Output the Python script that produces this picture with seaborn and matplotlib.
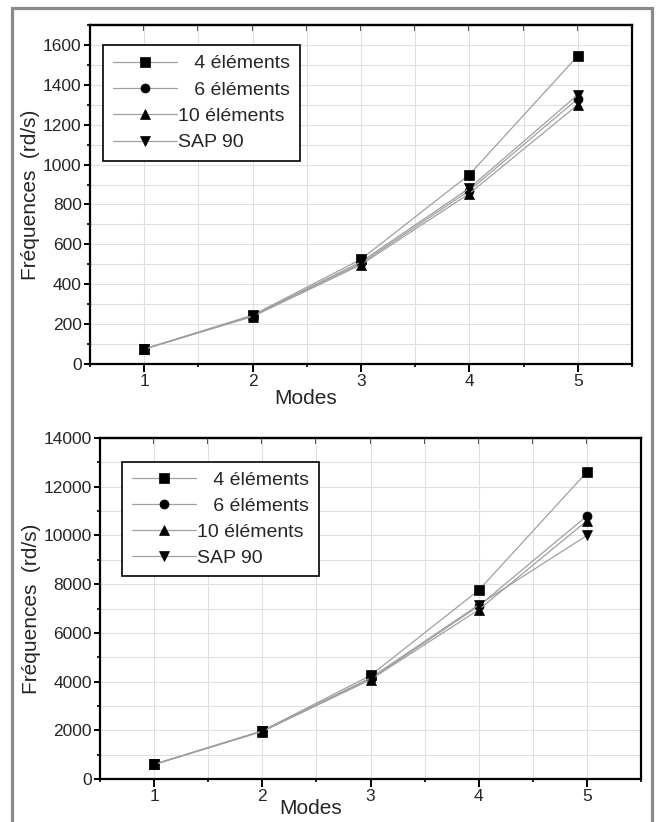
import pandas as pd
import seaborn as sns
import matplotlib.pyplot as plt
from matplotlib.patches import Rectangle
from matplotlib.ticker import MultipleLocator

modes = [1, 2, 3, 4, 5]
series = ["4 éléments", "6 éléments", "10 éléments", "SAP 90"]
labels = ["\u2007 4 éléments", "\u2007 6 éléments", "10 éléments", "SAP 90"]
markers = ["s", "o", "^", "v"]

# top chart
freq_top_4 = [75, 245, 525, 950, 1545]
freq_top_6 = [75, 240, 505, 870, 1330]
freq_top_10 = [75, 238, 498, 855, 1300]
freq_top_sap = [75, 242, 512, 882, 1350]

# bottom chart
freq_bot_4 = [600, 1980, 4250, 7750, 12600]
freq_bot_6 = [600, 1960, 4100, 7100, 10800]
freq_bot_10 = [600, 1950, 4080, 6950, 10600]
freq_bot_sap = [600, 1970, 4150, 7150, 10000]


def make_df(cols):
    rows = []
    for name, vals in zip(series, cols):
        for m, v in zip(modes, vals):
            rows.append({"Modes": m, "Freq": v, "Serie": name})
    return pd.DataFrame(rows)


df_top = make_df([freq_top_4, freq_top_6, freq_top_10, freq_top_sap])
df_bot = make_df([freq_bot_4, freq_bot_6, freq_bot_10, freq_bot_sap])

sns.set_style("white")
plt.rcParams["font.family"] = ["Liberation Sans", "DejaVu Sans"]

fig = plt.figure(figsize=(6.6, 8.22), dpi=100)
fig.patches.append(Rectangle((12 / 660, -0.05), 640 / 660, 1.05 - 8 / 822,
                             transform=fig.transFigure, fill=False,
                             edgecolor="#8a8a8a", linewidth=2.3))

ax1 = fig.add_axes([90 / 660, (822 - 364) / 822, 542 / 660, 339 / 822])
ax2 = fig.add_axes([100 / 660, (822 - 779) / 822, 541 / 660, 341 / 822])


def draw(ax, df, ymax, ymaj, ymin, leg_xy, xlab_xy, spacing):
    sns.lineplot(data=df, x="Modes", y="Freq", hue="Serie", style="Serie",
                 markers=markers, dashes=False, palette=["#a0a0a0"] * 4,
                 linewidth=0.9, markersize=6.5, markerfacecolor="black",
                 markeredgecolor="black", markeredgewidth=0.5,
                 legend=False, ax=ax)
    ax.set_xlim(0.5, 5.5)
    ax.set_ylim(0, ymax)
    ax.xaxis.set_major_locator(MultipleLocator(1))
    ax.xaxis.set_minor_locator(MultipleLocator(0.5))
    ax.yaxis.set_major_locator(MultipleLocator(ymaj))
    ax.yaxis.set_minor_locator(MultipleLocator(ymin))
    ax.grid(True, which="both", color="#e0e0e0", linewidth=0.8)
    ax.set_axisbelow(True)
    for s in ax.spines.values():
        s.set_color("black")
        s.set_linewidth(1.6)
    ax.tick_params(axis="both", which="major", direction="out", labelsize=12.5,
                   color="black", width=1.4, pad=2)
    ax.tick_params(axis="x", which="major", length=5.5)
    ax.tick_params(axis="y", which="major", length=4)
    ax.tick_params(axis="both", which="minor", direction="out", length=2.5,
                   width=1.2, color="black")
    ax.tick_params(left=True, bottom=True, which="both")
    sec = ax.secondary_xaxis("top")
    sec.xaxis.set_major_locator(MultipleLocator(1))
    sec.xaxis.set_minor_locator(MultipleLocator(0.5))
    sec.tick_params(which="both", direction="in", length=4, width=1.2,
                    labeltop=False)
    sec.spines["top"].set_linewidth(1.6)

    ax.set_xlabel("Modes", fontsize=15, labelpad=0)
    ax.xaxis.set_label_coords(*xlab_xy)
    ax.set_ylabel("Fréquences  (rd/s)", fontsize=15, labelpad=2)

    handles = ax.get_lines()[:4]
    leg = ax.legend(handles, labels, loc="upper left", bbox_to_anchor=leg_xy,
                    borderaxespad=0, fontsize=14, handlelength=3.3,
                    handletextpad=0.05, labelspacing=spacing, borderpad=0.5,
                    fancybox=False, framealpha=1, edgecolor="black")
    leg.get_frame().set_linewidth(1.2)


draw(ax1, df_top, 1700, 200, 100, (0.024, 0.941), (0.397, -0.075), 0.45)
draw(ax2, df_bot, 14000, 2000, 1000, (0.041, 0.93), (0.39, -0.06), 0.42)

fig.savefig("out.png", dpi=100)
